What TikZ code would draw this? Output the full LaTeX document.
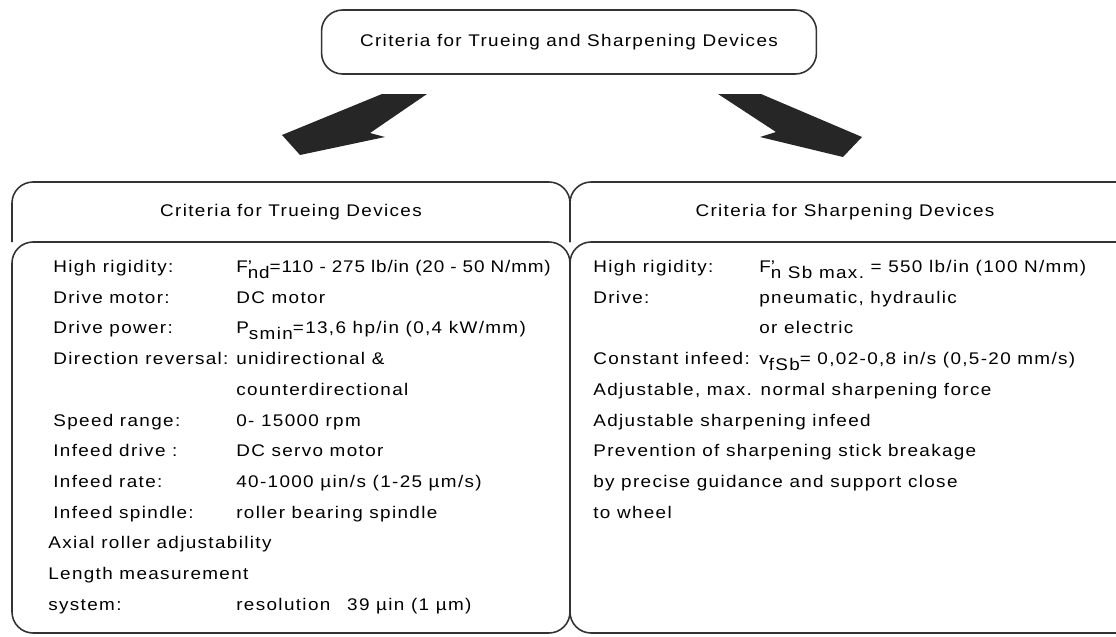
\documentclass[tikz,border=0pt]{standalone}
\usepackage{fontspec}
\setmainfont{Liberation Sans}[FakeStretch=1.12,LetterSpace=8]
\usepackage{tikz}

\newcommand{\lowr}[1]{\raisebox{-0.75ex}{#1}}

\tikzset{
  frame/.style={draw=black!80, line width=0.9pt, rounded corners=12},
  bigarrow/.style={fill=black!85},
  head/.style={font=\fontsize{9.6}{11}\selectfont},
  lbl/.style={anchor=base west, inner sep=0pt, font=\fontsize{9.6}{11}\selectfont},
  val/.style={lbl}
}

\begin{document}
\begin{tikzpicture}[x=0.02cm, y=-0.02cm]
\useasboundingbox (0,0) rectangle (1116,636);

% top box
\node[frame, head, minimum width=9.9cm, minimum height=1.28cm] (top) at (569,42) {Criteria for Trueing and Sharpening Devices};

% arrows
\fill[bigarrow] (382,94) -- (427,94) -- (370,133) -- (385,137) -- (300,155) -- (282,135) -- cycle;
\fill[bigarrow] (718,94) -- (776,132) -- (760,137) -- (843,157) -- (862,137) -- (761,94) -- cycle;

% panels
\draw[frame] (12,242) |- (570,182) -- (570,242);
\draw[frame] (12,242) rectangle (570,633);
\draw[frame] (570,242) |- (1116,182);
\draw[frame] (1116,242) -| (570,633) -- (1116,633);

\node[head] (trueHead) at (291,212) {Criteria for Trueing Devices};
\node[head] (sharpHead) at (845,212) {Criteria for Sharpening Devices};

% trueing
\node[lbl] (tl1) at (53,272) {High rigidity:};
\node[val] (tv1) at (236,272) {\addfontfeature{LetterSpace=5}F\rlap{'}\lowr{nd}=110 - 275 lb/in (20 - 50 N/mm)};
\node[lbl] (tl2) at (53,303) {Drive motor:};
\node[val] (tv2) at (236,303) {DC motor};
\node[lbl] (tl3) at (53,333) {Drive power:};
\node[val] (tv3) at (236,333) {P\lowr{smin}=13,6 hp/in (0,4 kW/mm)};
\node[lbl] (tl4) at (53,364) {Direction reversal:};
\node[val] (tv4) at (236,364) {unidirectional \&};
\node[val] (tv5) at (236,395) {counterdirectional};
\node[lbl] (tl6) at (53,426) {Speed range:};
\node[val] (tv6) at (236,426) {0- 15000 rpm};
\node[lbl] (tl7) at (53,456) {Infeed drive :};
\node[val] (tv7) at (236,456) {DC servo motor};
\node[lbl] (tl8) at (53,487) {Infeed rate:};
\node[val] (tv8) at (236,487) {40-1000 µin/s (1-25 µm/s)};
\node[lbl] (tl9) at (53,518) {Infeed spindle:};
\node[val] (tv9) at (236,518) {roller bearing spindle};
\node[lbl] (tl10) at (48,548) {Axial roller adjustability};
\node[lbl] (tl11) at (48,579) {Length measurement};
\node[lbl] (tl12) at (48,610) {system:};
\node[val] (tv12) at (236,610) {resolution\quad 39 µin (1 µm)};

% sharpening
\node[lbl] (sl1) at (593,272) {High rigidity:};
\node[val] (sv1) at (759,272) {F\rlap{'}\lowr{n Sb max.} = 550 lb/in (100 N/mm)};
\node[lbl] (sl2) at (593,303) {Drive:};
\node[val] (sv2) at (759,303) {pneumatic, hydraulic};
\node[val] (sv3) at (759,333) {or electric};
\node[lbl] (sl4) at (593,364) {Constant infeed:};
\node[val] (sv4) at (759,364) {v\lowr{fSb}= 0,02-0,8 in/s (0,5-20 mm/s)};
\node[lbl] (sl5) at (593,395) {Adjustable, max. normal sharpening force};
\node[lbl] (sl6) at (593,426) {Adjustable sharpening infeed};
\node[lbl] (sl7) at (593,456) {Prevention of sharpening stick breakage};
\node[lbl] (sl8) at (593,487) {by precise guidance and support close};
\node[lbl] (sl9) at (593,518) {to wheel};
\end{tikzpicture}
\end{document}
